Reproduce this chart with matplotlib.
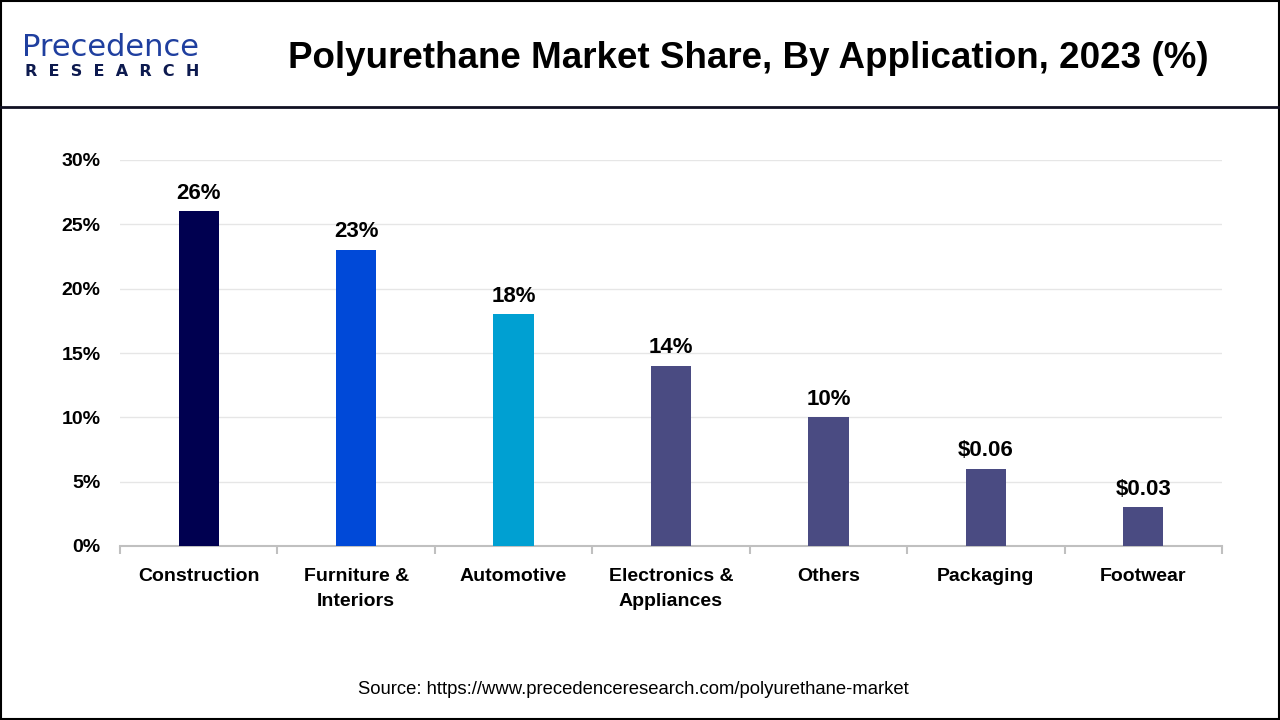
import matplotlib.pyplot as plt
from matplotlib.patches import Rectangle
from matplotlib.lines import Line2D
import numpy as np

categories = ['Construction', 'Furniture &\nInteriors', 'Automotive', 'Electronics &\nAppliances',
              'Others', 'Packaging', 'Footwear']
shares = [26, 23, 18, 14, 10, 6, 3]
labels = ['26%', '23%', '18%', '14%', '10%', '$0.06', '$0.03']
colors = ['#000050', '#0049d8', '#00a0d2', '#4a4b82', '#4a4b82', '#4a4b82', '#4a4b82']
yticks = [0, 5, 10, 15, 20, 25, 30]

plt.rcParams['font.family'] = ['Liberation Sans', 'DejaVu Sans']

fig = plt.figure(figsize=(12.8, 7.2), dpi=100)

# frame and header separator
fig.add_artist(Rectangle((0.001, 0.001), 0.998, 0.998, transform=fig.transFigure,
                         fill=False, edgecolor='black', linewidth=1.5))
fig.add_artist(Line2D([0, 1], [1 - 107 / 720, 1 - 107 / 720], transform=fig.transFigure,
                      color='#111122', linewidth=2))

# logo
fig.text(22 / 1280, 1 - 47 / 720, 'Precedence', fontsize=22, color='#1f3f9f',
         fontfamily='DejaVu Sans', va='center', ha='left')
fig.text(25 / 1280, 1 - 71 / 720, 'R  E  S  E  A  R  C  H', fontsize=11.5, color='#0d1a4f',
         fontweight='bold', fontfamily='DejaVu Sans', va='center', ha='left')

fig.text(748 / 1280, 1 - 58 / 720, 'Polyurethane Market Share, By Application, 2023 (%)',
         fontsize=26.5, fontweight='bold', ha='center', va='center')

ax = fig.add_axes([120 / 1280, 1 - 546 / 720, 1102 / 1280, 386 / 720])
x = np.arange(len(categories))
ax.bar(x, shares, width=0.255, color=colors, zorder=3)
for xi, v, lab in zip(x, shares, labels):
    ax.text(xi, v + 0.6, lab, ha='center', va='bottom', fontsize=16, fontweight='bold')

ax.set_xlim(-0.5, len(categories) - 0.5)
ax.set_ylim(0, 30)
ax.set_yticks(yticks)
ax.set_yticklabels([f'{t}%' for t in yticks], fontsize=14, fontweight='bold')
ax.yaxis.grid(True, color='#e6e6e6', linewidth=1, zorder=0)
ax.tick_params(axis='y', length=0, pad=14)

ax.set_xticks(x)
ax.set_xticklabels(categories, fontsize=14, fontweight='bold', linespacing=1.6)
ax.tick_params(axis='x', which='major', length=0, pad=16)
ax.set_xticks(np.arange(-0.5, len(categories)), minor=True)
ax.tick_params(axis='x', which='minor', length=6, color='#c0c0c0', width=1.5)

for s in ['top', 'right', 'left']:
    ax.spines[s].set_visible(False)
ax.spines['bottom'].set_color('#c0c0c0')
ax.spines['bottom'].set_linewidth(1.5)

fig.text(633 / 1280, 1 - 689 / 720, 'Source: https://www.precedenceresearch.com/polyurethane-market',
         fontsize=13.3, ha='center', va='center')

fig.savefig('out.png', dpi=100)
